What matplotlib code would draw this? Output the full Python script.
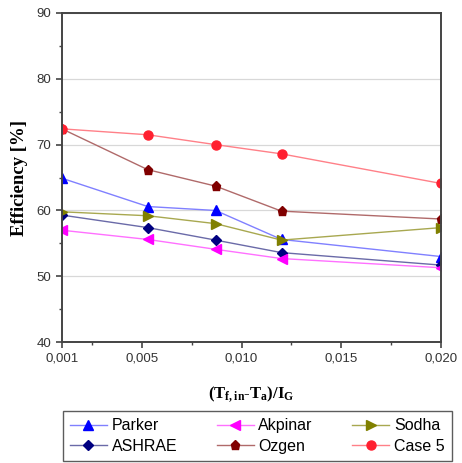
import matplotlib.pyplot as plt
from matplotlib.ticker import FixedLocator, MultipleLocator, FuncFormatter

x = [0.001, 0.0053, 0.0087, 0.012, 0.020]

parker = [64.9, 60.6, 60.0, 55.6, 53.0]
akpinar = [57.0, 55.6, 54.1, 52.7, 51.3]
sodha = [59.8, 59.2, 58.0, 55.5, 57.4]
ashrae = [59.3, 57.4, 55.5, 53.6, 51.7]
ozgen = [72.4, 66.2, 63.7, 59.9, 58.7]
case5 = [72.4, 71.5, 70.0, 68.6, 64.1]

# legend order (filled column-wise for a 3x2 legend)
series = [
    ("Parker", parker, "#0000ff", "#8080ff", "^"),
    ("ASHRAE", ashrae, "#000080", "#6a6aa8", "D"),
    ("Akpinar", akpinar, "#ff00ff", "#ff70ff", "<"),
    ("Ozgen", ozgen, "#800000", "#b06a6a", "p"),
    ("Sodha", sodha, "#808000", "#a8a850", ">"),
    ("Case 5", case5, "#ff2030", "#ff8088", "o"),
]

plt.rcParams["font.family"] = ["Liberation Sans", "DejaVu Sans"]
plt.rcParams["mathtext.fontset"] = "custom"
plt.rcParams["mathtext.rm"] = "Liberation Serif"
plt.rcParams["mathtext.bf"] = "Liberation Serif:bold"

fig = plt.figure(figsize=(4.62, 4.63), dpi=100)
ax = fig.add_axes([0.134, 0.261, 0.821, 0.711])

for name, vals, mc, lc, mk in series:
    ms = 5.5 if mk == "D" else 6.5
    ax.plot(x, vals, color=lc, lw=1.0, marker=mk, ms=ms,
            markerfacecolor=mc, markeredgecolor=mc, label=name)

ax.set_xlim(0.001, 0.020)
ax.set_ylim(40, 90)
ax.xaxis.set_major_locator(FixedLocator([0.001, 0.005, 0.010, 0.015, 0.020]))
ax.xaxis.set_minor_locator(FixedLocator([0.0025, 0.0075, 0.0125, 0.0175]))
ax.xaxis.set_major_formatter(FuncFormatter(lambda v, p: f"{v:.3f}".replace(".", ",")))
ax.yaxis.set_major_locator(MultipleLocator(10))
ax.yaxis.set_minor_locator(MultipleLocator(5))

ax.grid(axis="y", which="major", color="#d8d8d8", lw=0.9)
ax.set_axisbelow(True)
for s in ax.spines.values():
    s.set_color("#444444")
    s.set_linewidth(1.4)
ax.tick_params(which="major", length=4, width=1.2, color="#444444",
               labelsize=9.5, labelcolor="#333333")
ax.tick_params(which="minor", length=2.5, width=1.0, color="#444444")

ax.set_xlabel(r"$\mathbf{(T_{f,in}\text{-}T_a)/I_G}$", fontsize=12, labelpad=14)
ax.set_ylabel("Efficiency [%]", fontsize=13.5, fontweight="bold",
              family=["Liberation Serif", "DejaVu Serif"], labelpad=6)

handles, labels = ax.get_legend_handles_labels()
leg = fig.legend(handles, labels, loc="upper left",
                 bbox_to_anchor=(0.136, 0.0, 0.842, 0.112), mode="expand",
                 ncol=3, fontsize=11.5, frameon=True, fancybox=False,
                 edgecolor="#333333", borderpad=0.45, handlelength=2.3,
                 handletextpad=0.3, columnspacing=1.0, labelspacing=0.35,
                 borderaxespad=0)
leg.get_frame().set_linewidth(1.0)

fig.savefig("out.png", dpi=100)
